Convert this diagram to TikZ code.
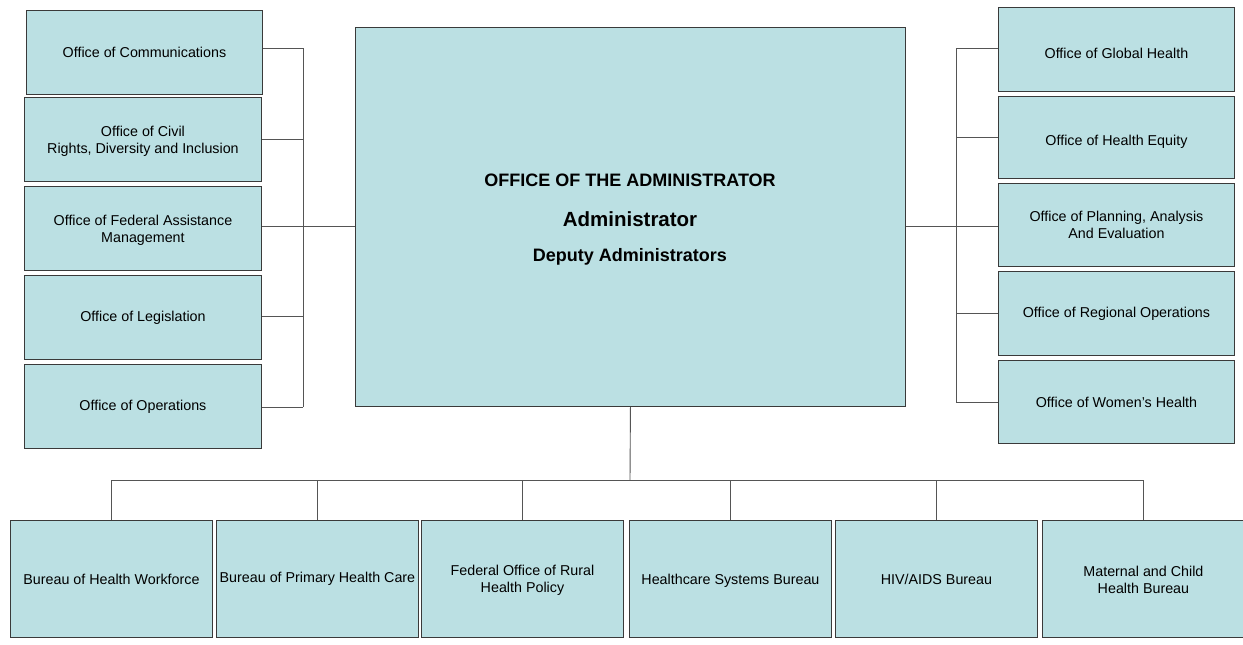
\documentclass[tikz,border=0pt]{standalone}
\usepackage{fontspec}
\setmainfont{Liberation Sans}
\definecolor{boxfill}{HTML}{BBE0E3}
\definecolor{boxline}{HTML}{3A3A3A}
\definecolor{connline}{HTML}{555555}
\begin{document}
\begin{tikzpicture}[x=1pt,y=1pt,
  box/.style={draw=boxline,fill=boxfill,line width=0.9pt,inner sep=0pt,align=center,
    anchor=north west,font=\fontsize{14.3}{17}\selectfont},
  low/.style={execute at begin node={\rule{0pt}{#1}}},
  lowm/.style={text height=#1},
  sidebox/.style={box,minimum width=237pt,minimum height=84pt},
  bottombox/.style={box,minimum width=202pt,minimum height=117pt},
  conn/.style={draw=connline,line width=0.9pt}]
\useasboundingbox (0,0) rectangle (1243,-645);
\fill[white] (0,0) rectangle (1243,-645);
% centre
\node[box,minimum width=550pt,minimum height=379pt] (admin) at (355,-27) {};
\node[font=\bfseries\fontsize{18}{21}\selectfont] (t1) at (630,-180) {OFFICE OF THE ADMINISTRATOR};
\node[font=\bfseries\fontsize{20.5}{24}\selectfont] (t2) at (630,-219) {Administrator};
\node[font=\bfseries\fontsize{18}{21}\selectfont] (t3) at (630,-257) {Deputy Administrators};
% left
\node[sidebox,minimum width=236pt] (comm) at (26,-10) {Office of Communications};
\node[sidebox,lowm=30.5pt] (civil) at (24,-97) {Office of Civil\\Rights, Diversity and Inclusion};
\node[sidebox,lowm=30.5pt] (fed) at (24,-186) {Office of Federal Assistance\\Management};
\node[sidebox,low=12pt] (legis) at (24,-275) {Office of Legislation};
\node[sidebox] (oper) at (24,-364) {Office of Operations};
% right
\node[sidebox,minimum width=236pt,low=18pt] (global) at (998,-7) {Office of Global Health};
\node[sidebox,minimum width=236pt,minimum height=82pt,low=19pt] (equity) at (998,-96) {Office of Health Equity};
\node[sidebox,minimum width=236pt,minimum height=83pt] (plan) at (998,-183) {Office of Planning, Analysis\\And Evaluation};
\node[sidebox,minimum width=236pt] (region) at (998,-271) {Office of Regional Operations};
\node[sidebox,minimum width=236pt,minimum height=83pt] (women) at (998,-360) {Office of Women’s Health};
% bottom
\node[bottombox,low=11pt] (bhw) at (10,-520) {Bureau of Health Workforce};
\node[bottombox,low=11pt] (bphc) at (216,-520) {Bureau of Primary Health Care};
\node[bottombox,lowm=30.5pt] (forhp) at (421,-520) {Federal Office of Rural\\Health Policy};
\node[bottombox,low=14pt] (hsb) at (629,-520) {Healthcare Systems Bureau};
\node[bottombox,low=11pt] (hab) at (835,-520) {HIV/AIDS Bureau};
\node[bottombox,lowm=28.5pt] (mchb) at (1042,-520) {Maternal and Child\\Health Bureau};
% left bus
\coordinate (L1) at (303,-48);
\coordinate (L2) at (303,-139);
\coordinate (L3) at (303,-226);
\coordinate (L4) at (303,-316);
\coordinate (L5) at (303,-407);
\draw[conn] (L1) -- (L5);
\draw[conn] (comm.east |- L1) -- (L1);
\draw[conn] (civil.east |- L2) -- (L2);
\draw[conn] (fed.east |- L3) -- (admin.west |- L3);
\draw[conn] (legis.east |- L4) -- (L4);
\draw[conn] (oper.east |- L5) -- (L5);
% right bus
\coordinate (R1) at (956,-48);
\coordinate (R2) at (956,-137);
\coordinate (R3) at (956,-226);
\coordinate (R4) at (956,-313);
\coordinate (R5) at (956,-402);
\draw[conn] (R1) -- (R5);
\draw[conn] (R1) -- (global.west |- R1);
\draw[conn] (R2) -- (equity.west |- R2);
\draw[conn] (admin.east |- R3) -- (plan.west |- R3);
\draw[conn] (R4) -- (region.west |- R4);
\draw[conn] (R5) -- (women.west |- R5);
% bottom bus
\coordinate (B0) at (630,-480);
\draw[conn] (admin.south) -- (B0);
\draw[conn] (bhw.north |- B0) -- (mchb.north |- B0);
\foreach \n in {bhw,bphc,forhp,hsb,hab,mchb}
  \draw[conn] (\n.north |- B0) -- (\n.north);
\end{tikzpicture}
\end{document}
